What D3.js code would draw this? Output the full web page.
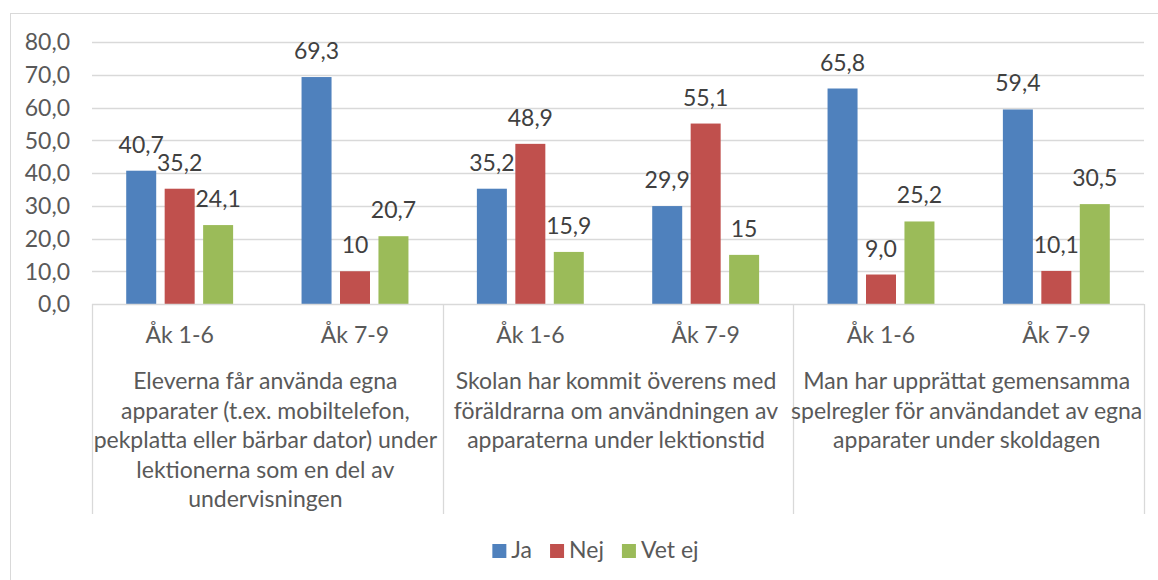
<!DOCTYPE html>
<html>
<head>
<meta charset="utf-8">
<script src="https://cdn.jsdelivr.net/npm/d3@7"></script>
<style>
  body { margin: 0; background: #fff; }
  svg { display: block; font-family: Lato, "Open Sans", sans-serif; }
  .tick-label { fill: #595959; font-size: 23px; }
  .value-label { fill: #404040; font-size: 23px; }
</style>
</head>
<body>
<svg width="1158" height="580"></svg>
<script>
(function () {
  'use strict';

  const series = ['Ja', 'Nej', 'Vet ej'];
  const subCategories = ['Åk 1-6', 'Åk 7-9', 'Åk 1-6', 'Åk 7-9', 'Åk 1-6', 'Åk 7-9'];
  const groupLabels = [
    ['Eleverna får använda egna', 'apparater (t.ex. mobiltelefon,', 'pekplatta eller bärbar dator) under', 'lektionerna som en del av', 'undervisningen'],
    ['Skolan har kommit överens med', 'föräldrarna om användningen av', 'apparaterna under lektionstid'],
    ['Man har upprättat gemensamma', 'spelregler för användandet av egna', 'apparater under skoldagen']
  ];
  const jaValues = [40.7, 69.3, 35.2, 29.9, 65.8, 59.4];
  const nejValues = [35.2, 10, 48.9, 55.1, 9.0, 10.1];
  const vetEjValues = [24.1, 20.7, 15.9, 15, 25.2, 30.5];
  // labels as printed in the chart (some without decimals)
  const jaLabels = ['40,7', '69,3', '35,2', '29,9', '65,8', '59,4'];
  const nejLabels = ['35,2', '10', '48,9', '55,1', '9,0', '10,1'];
  const vetEjLabels = ['24,1', '20,7', '15,9', '15', '25,2', '30,5'];
  const yTicks = [0, 10, 20, 30, 40, 50, 60, 70, 80];

  const COLORS = ['#4f81bd', '#c0504d', '#9bbb59'];
  const GRID = '#d9d9d9';

  const valuesBySeries = [jaValues, nejValues, vetEjValues];
  const labelsBySeries = [jaLabels, nejLabels, vetEjLabels];

  const data = subCategories.map((c, i) => ({
    idx: i,
    items: series.map((s, j) => ({
      key: s, value: valuesBySeries[j][i], label: labelsBySeries[j][i], color: COLORS[j]
    }))
  }));

  const svg = d3.select('svg');
  const plot = { left: 92, right: 1144, top: 42, bottom: 304 };

  const locale = d3.formatLocale({ decimal: ',', thousands: ' ', grouping: [3], currency: ['', ' kr'] });
  const fmt = locale.format('.1f');

  const y = d3.scaleLinear().domain([0, 80]).range([plot.bottom, plot.top]);
  const x0 = d3.scaleBand()
    .domain(d3.range(subCategories.length))
    .range([plot.left, plot.right])
    .paddingInner(0.342)
    .paddingOuter(0.171);
  const x1 = d3.scaleBand()
    .domain(series)
    .range([0, x0.bandwidth()])
    .paddingInner(0.22)
    .paddingOuter(0.11);
  const step = (plot.right - plot.left) / subCategories.length;

  // outer chart border
  svg.append('rect')
    .attr('x', 10.5).attr('y', 13.5)
    .attr('width', 1200).attr('height', 600)
    .attr('fill', 'none').attr('stroke', GRID);

  // gridlines
  svg.append('g')
    .selectAll('line')
    .data(yTicks.filter(d => d > 0))
    .join('line')
    .attr('x1', plot.left).attr('x2', plot.right)
    .attr('y1', d => Math.round(y(d)) + 0.5)
    .attr('y2', d => Math.round(y(d)) + 0.5)
    .attr('stroke', GRID).attr('stroke-width', 1.3);

  // y axis labels
  svg.append('g')
    .selectAll('text')
    .data(yTicks)
    .join('text')
    .attr('class', 'tick-label')
    .attr('x', 70)
    .attr('y', d => y(d))
    .attr('dy', '0.36em')
    .attr('text-anchor', 'end')
    .text(d => fmt(d));

  // bars
  const groups = svg.append('g')
    .selectAll('g')
    .data(data)
    .join('g')
    .attr('transform', d => `translate(${x0(d.idx)},0)`);

  groups.selectAll('rect')
    .data(d => d.items)
    .join('rect')
    .attr('x', d => x1(d.key))
    .attr('width', x1.bandwidth())
    .attr('y', d => y(d.value))
    .attr('height', d => y(0) - y(d.value))
    .attr('fill', d => d.color);

  groups.selectAll('text')
    .data(d => d.items)
    .join('text')
    .attr('class', 'value-label')
    .attr('x', d => x1(d.key) + x1.bandwidth() / 2)
    .attr('y', d => y(d.value) - 18)
    .attr('text-anchor', 'middle')
    .text(d => d.label);

  // category axis: baseline + group separators
  svg.append('line')
    .attr('x1', plot.left).attr('x2', plot.right)
    .attr('y1', plot.bottom + 0.5).attr('y2', plot.bottom + 0.5)
    .attr('stroke', GRID).attr('stroke-width', 1.3);

  svg.append('g')
    .selectAll('line')
    .data(d3.range(groupLabels.length + 1))
    .join('line')
    .attr('x1', i => Math.round(plot.left + i * 2 * step) + 0.5)
    .attr('x2', i => Math.round(plot.left + i * 2 * step) + 0.5)
    .attr('y1', plot.bottom)
    .attr('y2', 514)
    .attr('stroke', GRID).attr('stroke-width', 1.3);

  svg.append('g')
    .selectAll('text')
    .data(subCategories)
    .join('text')
    .attr('class', 'tick-label')
    .attr('x', (d, i) => x0(i) + x0.bandwidth() / 2)
    .attr('y', 343)
    .attr('text-anchor', 'middle')
    .text(d => d);

  svg.append('g')
    .selectAll('text')
    .data(groupLabels)
    .join('text')
    .attr('class', 'tick-label')
    .attr('text-anchor', 'middle')
    .attr('transform', (d, i) => `translate(${plot.left + (i * 2 + 1) * step - 2},389)`)
    .selectAll('tspan')
    .data(d => d)
    .join('tspan')
    .attr('x', 0)
    .attr('y', (d, i) => i * 29.5)
    .text(d => d);

  // legend
  const legend = svg.append('g');
  let cx = 0;
  series.forEach((s, i) => {
    const item = legend.append('g').attr('transform', `translate(${cx},0)`);
    item.append('rect')
      .attr('x', 0).attr('y', -14)
      .attr('width', 14).attr('height', 14)
      .attr('fill', COLORS[i]);
    const t = item.append('text')
      .attr('class', 'tick-label')
      .attr('x', 19)
      .attr('y', 0)
      .text(s);
    cx += 19 + t.node().getComputedTextLength() + 18;
  });
  const legendW = cx - 18;
  legend.attr('transform', `translate(${595.5 - legendW / 2},558)`);
})();
</script>
</body>
</html>
